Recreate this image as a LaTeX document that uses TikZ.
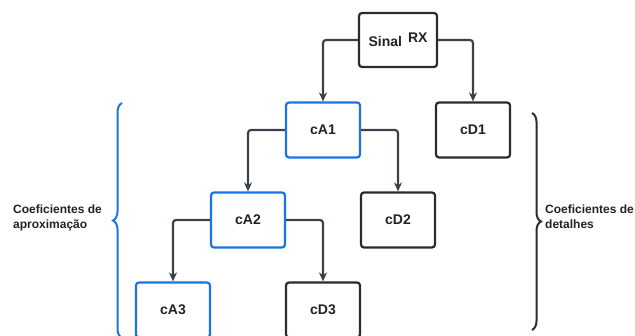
\documentclass[tikz,border=0pt]{standalone}
\usepackage{fontspec}
\setmainfont{Liberation Sans}
\usepackage{xcolor}
\usetikzlibrary{positioning,arrows.meta,decorations.pathreplacing}

\definecolor{coefblue}{HTML}{1A73E8}
\definecolor{boxdark}{HTML}{2B2B2B}
\definecolor{arrowgrey}{HTML}{3C4048}
\definecolor{textdark}{HTML}{222222}

\begin{document}
\begin{tikzpicture}[
    x=1pt, y=1pt,
    on grid, node distance=90pt and 75pt,
    coef/.style={rectangle, draw=boxdark, line width=2.2pt, rounded corners=3pt, minimum width=74pt, minimum height=55pt, font=\fontsize{14}{17}\selectfont\bfseries, text=textdark},
    approx/.style={coef, draw=coefblue},
    detail/.style={coef},
    arr/.style={-{Stealth[length=9pt, width=8pt]}, line width=2.2pt, draw=arrowgrey, rounded corners=3pt},
    bracer/.style={decorate, decoration={brace, amplitude=9pt}, line width=2pt},
    side/.style={align=left, anchor=west, inner sep=0pt, font=\fontsize{12}{15}\selectfont\bfseries, text=textdark},
]
\path[use as bounding box] (0,0) rectangle (635,336);
\clip (0,0) rectangle (635,336);

\node[coef, minimum width=78pt, minimum height=54pt] (sinal) at (398,296) {Sinal\hspace{6pt}\raisebox{4pt}{RX}};
\node[approx, below left=of sinal] (ca1) {cA1};
\node[detail, below right=of sinal] (cd1) {cD1};
\node[approx, below left=of ca1] (ca2) {cA2};
\node[detail, below right=of ca1] (cd2) {cD2};
\node[approx, below left=of ca2] (ca3) {cA3};
\node[detail, below right=of ca2] (cd3) {cD3};

\draw[arr] (sinal.west) -| (ca1.north);
\draw[arr] (sinal.east) -| (cd1.north);
\draw[arr] (ca1.west) -| (ca2.north);
\draw[arr] (ca1.east) -| (cd2.north);
\draw[arr] (ca2.west) -| (ca3.north);
\draw[arr] (ca2.east) -| (cd3.north);

% chaves laterais
\draw[bracer, coefblue] (122,-2) -- (122,233);
\draw[bracer, boxdark] (532,223) -- (532,6);
\node[side] (aproxlabel) at (13,118) {Coeficientes de\\aproximação};
\node[side] (detlabel) at (545,119.5) {Coeficientes de\\detalhes};
\end{tikzpicture}
\end{document}
